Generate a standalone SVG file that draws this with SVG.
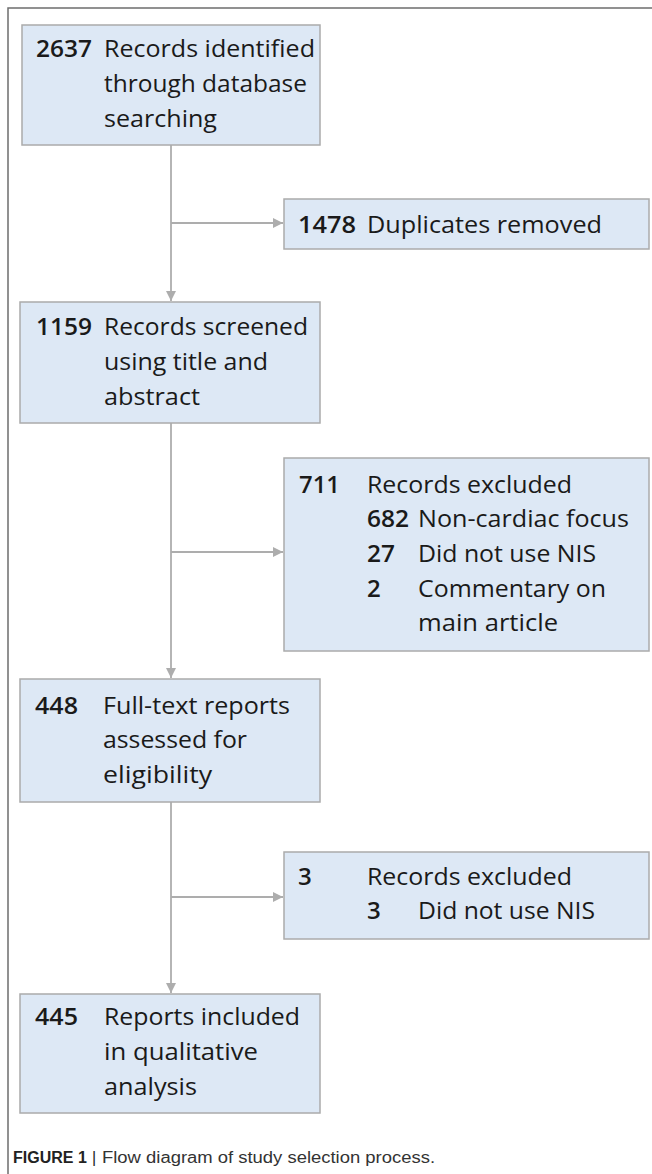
<svg xmlns="http://www.w3.org/2000/svg" width="652" height="1174" viewBox="0 0 652 1174">
<defs>
<style>
.box{fill:#dde8f5;stroke:#ababab;stroke-width:1.5}
.t{font-family:"Open Sans","Liberation Sans",sans-serif;font-size:24px;fill:#1a1a1a}
.n{font-weight:600}
.c{fill:none;stroke:#adadad;stroke-width:1.8}
.frame{fill:none;stroke:#6e6e6e;stroke-width:1.5}
.cap{font-family:"Liberation Sans",Arial,sans-serif;font-size:16px;fill:#333}
</style>
<marker id="arr" viewBox="0 0 10 10" refX="10" refY="5" markerWidth="10" markerHeight="10" markerUnits="userSpaceOnUse" orient="auto">
<path d="M0,0 L10,5 L0,10 z" fill="#adadad"/>
</marker>
</defs>
<rect width="652" height="1174" fill="#ffffff"/>
<path class="frame" d="M8,1174 L8,8 L652,8"/>

<g id="connectors">
<path class="c" d="M171,145 L171,301" marker-end="url(#arr)"/>
<path class="c" d="M171,223 L283,223" marker-end="url(#arr)"/>
<path class="c" d="M171,423 L171,678" marker-end="url(#arr)"/>
<path class="c" d="M171,552 L283,552" marker-end="url(#arr)"/>
<path class="c" d="M171,802 L171,993" marker-end="url(#arr)"/>
<path class="c" d="M171,897 L283,897" marker-end="url(#arr)"/>
</g>

<g id="n2637">
<rect class="box" x="22" y="25" width="298" height="120"/>
<text class="t n" x="36" y="57" textLength="56" lengthAdjust="spacingAndGlyphs">2637</text>
<text class="t" x="104" y="57" textLength="211" lengthAdjust="spacingAndGlyphs">Records identified</text>
<text class="t" x="104" y="92" textLength="203" lengthAdjust="spacingAndGlyphs">through database</text>
<text class="t" x="104" y="127" textLength="113" lengthAdjust="spacingAndGlyphs">searching</text>
</g>

<g id="n1478">
<rect class="box" x="284" y="199" width="365" height="50"/>
<text class="t n" x="298" y="233" textLength="58" lengthAdjust="spacingAndGlyphs">1478</text>
<text class="t" x="367" y="233" textLength="235" lengthAdjust="spacingAndGlyphs">Duplicates removed</text>
</g>

<g id="n1159">
<rect class="box" x="20" y="302" width="300" height="121"/>
<text class="t n" x="36" y="335" textLength="56" lengthAdjust="spacingAndGlyphs">1159</text>
<text class="t" x="104" y="335" textLength="204" lengthAdjust="spacingAndGlyphs">Records screened</text>
<text class="t" x="104" y="370" textLength="164" lengthAdjust="spacingAndGlyphs">using title and</text>
<text class="t" x="104" y="405" textLength="96" lengthAdjust="spacingAndGlyphs">abstract</text>
</g>

<g id="n711">
<rect class="box" x="284" y="458" width="365" height="193"/>
<text class="t n" x="299" y="493" textLength="41" lengthAdjust="spacingAndGlyphs">711</text>
<text class="t" x="367" y="493" textLength="205" lengthAdjust="spacingAndGlyphs">Records excluded</text>
<text class="t n" x="367" y="527" textLength="42" lengthAdjust="spacingAndGlyphs">682</text>
<text class="t" x="418" y="527" textLength="211" lengthAdjust="spacingAndGlyphs">Non-cardiac focus</text>
<text class="t n" x="367" y="562" textLength="28" lengthAdjust="spacingAndGlyphs">27</text>
<text class="t" x="418" y="562" textLength="178" lengthAdjust="spacingAndGlyphs">Did not use NIS</text>
<text class="t n" x="367" y="597">2</text>
<text class="t" x="418" y="597" textLength="188" lengthAdjust="spacingAndGlyphs">Commentary on</text>
<text class="t" x="418" y="631" textLength="140" lengthAdjust="spacingAndGlyphs">main article</text>
</g>

<g id="n448">
<rect class="box" x="20" y="679" width="300" height="123"/>
<text class="t n" x="35" y="714" textLength="43" lengthAdjust="spacingAndGlyphs">448</text>
<text class="t" x="103" y="714" textLength="187" lengthAdjust="spacingAndGlyphs">Full-text reports</text>
<text class="t" x="103" y="748" textLength="144" lengthAdjust="spacingAndGlyphs">assessed for</text>
<text class="t" x="103" y="783" textLength="109" lengthAdjust="spacingAndGlyphs">eligibility</text>
</g>

<g id="n3">
<rect class="box" x="284" y="852" width="365" height="87"/>
<text class="t n" x="298" y="885">3</text>
<text class="t" x="367" y="885" textLength="205" lengthAdjust="spacingAndGlyphs">Records excluded</text>
<text class="t n" x="367" y="919">3</text>
<text class="t" x="418" y="919" textLength="177" lengthAdjust="spacingAndGlyphs">Did not use NIS</text>
</g>

<g id="n445">
<rect class="box" x="20" y="994" width="300" height="119"/>
<text class="t n" x="35" y="1025" textLength="43" lengthAdjust="spacingAndGlyphs">445</text>
<text class="t" x="104" y="1025" textLength="196" lengthAdjust="spacingAndGlyphs">Reports included</text>
<text class="t" x="104" y="1060" textLength="154" lengthAdjust="spacingAndGlyphs">in qualitative</text>
<text class="t" x="104" y="1095" textLength="93" lengthAdjust="spacingAndGlyphs">analysis</text>
</g>

<text class="cap" x="13" y="1163"><tspan font-weight="bold" fill="#222">FIGURE 1</tspan><tspan x="92" fill="#222">|</tspan><tspan x="102" textLength="333" lengthAdjust="spacingAndGlyphs">Flow diagram of study selection process.</tspan></text>
</svg>
